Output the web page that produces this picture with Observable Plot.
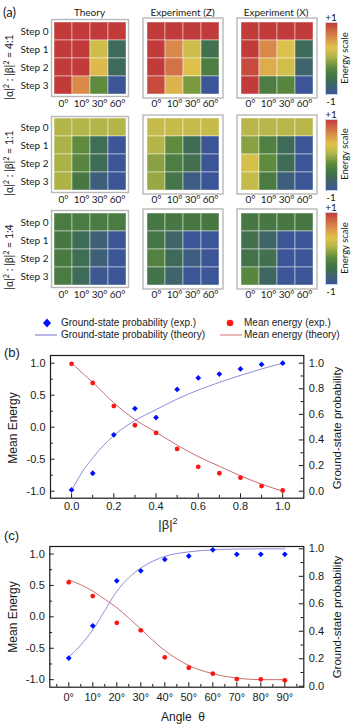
<!DOCTYPE html>
<html><head><meta charset="utf-8">
<script src="https://cdn.jsdelivr.net/npm/d3@7"></script>
<script src="https://cdn.jsdelivr.net/npm/@observablehq/plot@0.6"></script>
<style>
body{margin:0;background:#fff;}
#root{position:relative;width:353px;height:725px;overflow:hidden;background:#fff;}
.t{position:absolute;white-space:nowrap;color:#1a1a1a;line-height:1;}
.t sup{font-size:0.7em;vertical-align:0.45em;line-height:0;}
</style></head><body><div id="root"></div><script>
// ---------- Panel (a) data ----------
const angleCats = ["0°","10°","30°","60°"];
const stepCats = ["Step 0","Step 1","Step 2","Step 3"];
const panelTitles = ["Theory","Experiment (Z)","Experiment (X)"];
const ratioLabels = ["4:1","1:1","1:4"];
const theory41 = [[1,1,1,1],[1,1,0.2,-0.65],[1,1,0.35,-0.65],[1,0.6,-0.25,-1]];
const expZ41   = [[1,1,1,1],[1,0.6,0.2,-0.55],[1,0.72,0.28,-0.4],[0.92,0.38,-0.15,-1]];
const expX41   = [[1,1,1,1],[1,0.6,0.28,-0.65],[0.92,0.42,0.22,-0.75],[1,-0.4,-0.3,-1]];
const theory11 = [[0.05,0.05,0.05,0.05],[0.02,-0.25,-0.6,-1],[0.02,-0.3,-0.62,-1],[0.03,-0.45,-0.82,-1]];
const expZ11   = [[0.15,0.15,0.15,0.15],[0.05,-0.25,-0.62,-1],[-0.1,-0.4,-0.55,-1],[-0.05,-0.5,-0.88,-1]];
const expX11   = [[0.08,0.08,0.08,0.08],[-0.1,-0.38,-0.65,-1],[0.25,-0.25,-0.62,-1],[0.15,-0.42,-0.82,-1]];
const theory14 = [[-0.42,-0.42,-0.42,-0.42],[-0.45,-0.62,-0.8,-1],[-0.43,-0.6,-0.8,-1],[-0.42,-0.65,-0.95,-1]];
const expZ14   = [[-0.45,-0.45,-0.45,-0.45],[-0.5,-0.72,-1,-1],[-0.35,-0.65,-0.85,-1],[-0.52,-0.75,-1,-1]];
const expX14   = [[-0.45,-0.45,-0.45,-0.45],[-0.55,-0.72,-1,-1],[-0.52,-0.55,-1,-1],[-0.3,-0.7,-1,-1]];
const energyScaleValues = [-1, -0.82, -0.65, -0.45, -0.25, 0.05, 0.3, 0.6, 1];
const energyScaleColors = ["#3b5597","#3e5f7b","#3e6a5a","#477843","#5e8b3d","#b4b649","#dfc24d","#d98a4a","#c23b3b"];

// ---------- Panel (b) data ----------
const betaSq = [0,0.1,0.2,0.3,0.4,0.5,0.6,0.7,0.8,0.9,1.0];
const probExpB = [0.01,0.14,0.44,0.645,0.575,0.795,0.885,0.915,0.955,0.99,1.0];
const energyExpB = [0.99,0.69,0.33,0.03,-0.09,-0.34,-0.62,-0.72,-0.79,-0.92,-0.99];
const betaSqTheory = [0,0.05,0.1,0.2,0.3,0.4,0.5,0.6,0.7,0.8,0.9,1.0];
const probTheoryB = [0.005,0.15,0.26,0.435,0.552,0.637,0.72,0.79,0.85,0.905,0.955,1.0];
const energyTheoryB = [1.0,0.85,0.70,0.38,0.12,-0.08,-0.28,-0.46,-0.61,-0.76,-0.89,-1.0];

// ---------- Panel (c) data ----------
const angleDeg = [0,10,20,30,40,50,60,70,80,90];
const probExpC = [0.205,0.44,0.767,0.84,0.923,0.947,0.993,0.96,0.96,0.96];
const energyExpC = [0.55,0.33,-0.095,-0.215,-0.645,-0.81,-0.905,-0.99,-0.995,-1.01];
const angleTheory = [0,5,10,15,20,25,30,40,50,60,70,80,90];
const probTheoryC = [0.211,0.30,0.41,0.55,0.69,0.79,0.86,0.945,0.978,0.993,0.998,1.0,1.0];
const energyTheoryC = [0.59,0.51,0.41,0.28,0.147,-0.02,-0.195,-0.537,-0.774,-0.905,-0.974,-1.0,-1.0];

// ---------- tick labels ----------
const energyTicks = [-1,-0.5,0,0.5,1];
const energyMinor = [-0.75,-0.25,0.25,0.75];
const probTicks = [0,0.2,0.4,0.6,0.8,1.0];
const probMinor = [0.1,0.3,0.5,0.7,0.9];
const betaTicks = [0,0.2,0.4,0.6,0.8,1.0];
const betaMinor = [0.1,0.3,0.5,0.7,0.9];
const angleTicks = [0,10,20,30,40,50,60,70,80,90];
const angleMinor = [-5,5,15,25,35,45,55,65,75,85,95];

const root = document.getElementById("root");
const SANS_A = "Lato, 'Open Sans', sans-serif";
const SANS_B = "'Liberation Sans', Arial, sans-serif";
const colorDef = {type:"linear", domain: energyScaleValues, range: energyScaleColors, clamp:true};

function place(node, left, top){
  node.style.position = "absolute";
  node.style.left = left + "px";
  node.style.top = top + "px";
  root.appendChild(node);
}
function label(html, x, y, o = {}){
  const d = document.createElement("div");
  d.className = "t";
  d.innerHTML = html;
  d.style.left = x + "px"; d.style.top = y + "px";
  d.style.fontSize = (o.size || 10) + "px";
  d.style.fontFamily = o.font || SANS_A;
  const tx = o.anchor === "start" ? "0" : "-50%";
  d.style.transform = `translate(${tx},-50%)`;
  if (o.rotate) d.style.transform = "translate(-50%,-50%) rotate(-90deg)";
  root.appendChild(d);
  return d;
}

// ---------- Panel (a) ----------
const heatRows = [[theory41, expZ41, expX41],[theory11, expZ11, expX11],[theory14, expZ14, expX14]];
const rowTops = [20, 117, 210.5];
const rowHeights = [75, 74, 75];
const panelLefts = [52, 145, 238.5];
const cellW = 75;

function heatmap(values, left, top, h, withY, frameInset){
  const data = [];
  values.forEach((row, i) => row.forEach((v, j) => data.push({step: stepCats[i], angle: angleCats[j], v})));
  const mL = withY ? 52 : 4, mR = 4, mT = 4, mB = 16;
  const svg = Plot.plot({
    width: cellW + mL + mR, height: h + mT + mB,
    marginLeft: mL, marginRight: mR, marginTop: mT, marginBottom: mB,
    style: {background: "transparent", fontFamily: SANS_A, fontSize: "10px", color: "#1a1a1a"},
    x: {domain: angleCats, padding: 0, tickSize: 0, tickPadding: 4, label: null},
    y: {domain: stepCats, padding: 0, axis: withY ? "left" : null, tickSize: 0, tickPadding: 4, label: null},
    color: colorDef,
    marks: [
      Plot.cell(data, {x: "angle", y: "step", fill: "v", stroke: "white", strokeOpacity: 0.45, strokeWidth: 1}),
      Plot.frame({stroke: "#b8b8b8", strokeWidth: 1.4, inset: -frameInset})
    ]
  });
  place(svg, left - mL, top - mT);
}
function colorbar(top, h){
  const m = 2;
  const svg = Plot.plot({
    width: 12 + 2*m, height: h + 2*m, margin: m,
    style: {background: "transparent"},
    x: {domain: [0,1], axis: null},
    y: {domain: [-1,1], axis: null},
    color: colorDef,
    marks: [
      Plot.raster({x1: 0, x2: 1, y1: -1, y2: 1, width: 1, height: 120, fill: (x, y) => y, imageRendering: "auto"}),
      Plot.frame({stroke: "#c9d3e6", strokeWidth: 1})
    ]
  });
  place(svg, 325 - m, top - m);
}

label("(a)", 3, 12, {size: 13, anchor: "start", font: SANS_A});
panelTitles.forEach((t, k) => label(t, panelLefts[k] + cellW/2, 12, {size: 10}));
heatRows.forEach((row, r) => {
  row.forEach((vals, k) => heatmap(vals, panelLefts[k], rowTops[r], rowHeights[r], k === 0, k === 0 ? 1 : 2.5));
  const cbTop = rowTops[r] + 1.5, cbH = rowHeights[r] - 3;
  colorbar(cbTop, cbH);
  label("+1", 331, cbTop - 5, {size: 10});
  label("-1", 331, cbTop + cbH + 7, {size: 10});
  label("Energy scale", 345, cbTop + cbH/2, {size: 9.5, rotate: true});
  label(`|α|<sup>2</sup> : |β|<sup>2</sup> = ${ratioLabels[r]}`, 9, rowTops[r] + rowHeights[r]/2 + 9, {size: 10.5, rotate: true});
});

// ---------- Legend ----------
(function(){
  const s = d3.create("svg").attr("width", 353).attr("height", 26);
  s.append("path").attr("d", "M0,-4.5L4,0L0,4.5L-4,0Z").attr("transform", "translate(47,6)").attr("fill", "#0010ff");
  s.append("line").attr("x1", 35).attr("x2", 57).attr("y1", 18).attr("y2", 18).attr("stroke", "#7070d0").attr("stroke-width", 1);
  s.append("circle").attr("cx", 230).attr("cy", 6).attr("r", 3.3).attr("fill", "#ff1a1a");
  s.append("line").attr("x1", 220).attr("x2", 242).attr("y1", 18).attr("y2", 18).attr("stroke", "#e39a9a").attr("stroke-width", 1.4);
  place(s.node(), 0, 317);
  label("Ground-state probability (exp.)", 61, 323, {size: 10, anchor: "start", font: SANS_B});
  label("Ground-state probability (theory)", 61, 335, {size: 10, anchor: "start", font: SANS_B});
  label("Mean energy (exp.)", 244, 323, {size: 10, anchor: "start", font: SANS_B});
  label("Mean energy (theory)", 244, 335, {size: 10, anchor: "start", font: SANS_B});
})();

// ---------- Dual-axis plots ----------
function dualPlot(cfg){
  const W = 353;
  const {top, height, mT, mB, mL, mR, xDomain, xTicks, xMinor, xFormat, xPad, leftDomain, rightDomain,
         xs, energyExp, probExp, thX, energyTh, probTh} = cfg;
  const fw = W - mL - mR, fh = height - mT - mB;
  const expData = xs.map((x, i) => ({x, e: energyExp[i], p: probExp[i]}));
  const thData = thX.map((x, i) => ({x, e: energyTh[i], p: probTh[i]}));
  const common = {width: W, height, marginTop: mT, marginBottom: mB, marginLeft: mL, marginRight: mR,
    style: {background: "transparent", fontFamily: SANS_B, fontSize: "11px", color: "#1a1a1a"}};
  const p1 = Plot.plot({
    ...common,
    x: {domain: xDomain},
    y: {domain: leftDomain},
    marks: [
      Plot.axisY(energyTicks, {anchor: "left", tickSize: 0, tickPadding: 5, label: null, tickFormat: d => d.toFixed(1)}),
      Plot.axisX(xTicks, {anchor: "bottom", tickSize: 0, tickPadding: xPad, label: null, tickFormat: xFormat}),
      Plot.tickY(energyTicks, {y: d => d, insetRight: fw - 4.5, stroke: "#1a1a1a"}),
      Plot.tickY(energyMinor, {y: d => d, insetRight: fw - 2.8, stroke: "#1a1a1a"}),
      Plot.tickX(xTicks, {x: d => d, insetTop: fh - 4.5, stroke: "#1a1a1a"}),
      Plot.tickX(xMinor, {x: d => d, insetTop: fh - 2.8, stroke: "#1a1a1a"}),
      Plot.line(thData, {x: "x", y: "e", curve: "monotone-x", stroke: "#b94a48", strokeWidth: 0.8}),
      Plot.dot(expData, {x: "x", y: "e", r: 2.4, fill: "#ff1414"}),
      Plot.frame({stroke: "#1a1a1a", strokeWidth: 1.2})
    ]
  });
  const p2 = Plot.plot({
    ...common,
    x: {domain: xDomain, axis: null},
    y: {domain: rightDomain},
    marks: [
      Plot.axisY(probTicks, {anchor: "right", tickSize: 0, tickPadding: 5, label: null, tickFormat: d => d.toFixed(1)}),
      Plot.tickY(probTicks, {y: d => d, insetLeft: fw - 4.5, stroke: "#1a1a1a"}),
      Plot.tickY(probMinor, {y: d => d, insetLeft: fw - 2.8, stroke: "#1a1a1a"}),
      Plot.line(thData, {x: "x", y: "p", curve: "monotone-x", stroke: "#6e70cf", strokeWidth: 0.8}),
      Plot.dot(expData, {x: "x", y: "p", symbol: "diamond2", r: 2.6, fill: "#0010ff"})
    ]
  });
  place(p1, 0, top);
  place(p2, 0, top);
}

// (b)
dualPlot({top: 340, height: 175, mT: 15, mB: 17.3, mL: 50, mR: 49.7,
  xDomain: [-0.1, 1.1], xTicks: betaTicks, xMinor: betaMinor, xFormat: d => d.toFixed(1), xPad: 4,
  leftDomain: [-1.11, 1.12], rightDomain: [-0.055, 1.06],
  xs: betaSq, energyExp: energyExpB, probExp: probExpB, thX: betaSqTheory, energyTh: energyTheoryB, probTh: probTheoryB});
label("(b)", 4, 352, {size: 13, anchor: "start", font: SANS_B});
label("Mean Energy", 13, 428, {size: 12, rotate: true, font: SANS_B});
label("Ground-state probability", 338, 428, {size: 11.5, rotate: true, font: SANS_B});
label("|β|<sup>2</sup>", 168, 524, {size: 13, font: SANS_B});

// (c)
dualPlot({top: 531, height: 180, mT: 15, mB: 24.3, mL: 49.3, mR: 49.7,
  xDomain: [-7.9, 97.9], xTicks: angleTicks, xMinor: angleMinor, xFormat: d => d + "°", xPad: 6,
  leftDomain: [-1.12, 1.12], rightDomain: [-0.007, 1.017],
  xs: angleDeg, energyExp: energyExpC, probExp: probExpC, thX: angleTheory, energyTh: energyTheoryC, probTh: probTheoryC});
label("(c)", 4, 535, {size: 13, anchor: "start", font: SANS_B});
label("Mean Energy", 13, 617, {size: 12, rotate: true, font: SANS_B});
label("Ground-state probability", 338, 617, {size: 11.5, rotate: true, font: SANS_B});
label("Angle&nbsp; θ", 183, 717, {size: 12, font: SANS_B});
</script></body></html>
